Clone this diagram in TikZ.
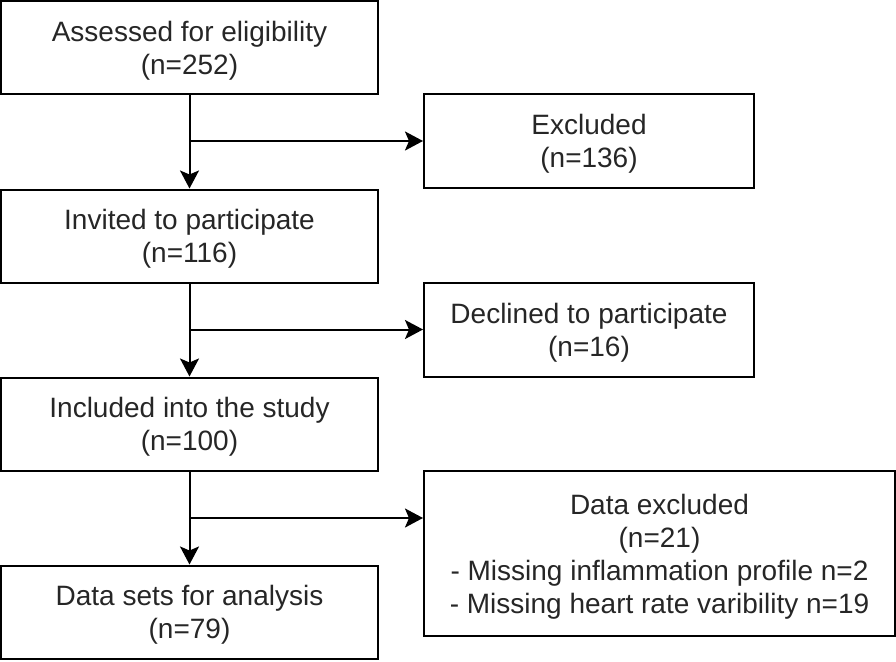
\documentclass[tikz,border=0pt]{standalone}
\usepackage{fontspec}
\setmainfont{Liberation Sans}
\usetikzlibrary{arrows.meta}
\begin{document}
\begin{tikzpicture}[x=1pt,y=-1pt,
  box/.style={draw=black,line width=2pt,rectangle,align=center,inner sep=0pt,text depth=0pt,
    font=\fontsize{28}{33}\selectfont,text=black!85},
  arr/.style={line width=2pt,-{Stealth[length=18pt,width=19pt,inset=4pt]}}]
\useasboundingbox (0,0) rectangle (896,661);
\node[box,minimum width=377pt,minimum height=93pt] (b1) at (189.5,47.5) {Assessed for eligibility\\(n=252)};
\node[box,minimum width=377pt,minimum height=93pt] (b2) at (189.5,236) {Invited to participate\\(n=116)};
\node[box,minimum width=377pt,minimum height=93pt] (b3) at (189.5,424) {Included into the study\\(n=100)};
\node[box,minimum width=377pt,minimum height=93pt] (b4) at (189.5,612) {Data sets for analysis\\(n=79)};
\node[box,minimum width=330pt,minimum height=94pt] (e1) at (589,141) {Excluded\\(n=136)};
\node[box,minimum width=330pt,minimum height=94pt] (e2) at (589,329.5) {Declined to participate\\(n=16)};
\node[box,minimum width=471pt,minimum height=165pt] (e3) at (659.5,553.5) {Data excluded\\(n=21)\\- Missing inflammation profile n=2\\- Missing heart rate varibility n=19};
\coordinate (j1) at (b1.south |- e1.west);
\coordinate (j2) at (b2.south |- e2.west);
\coordinate (j3) at (b3.south |- 0,518);
\draw[arr] (b1.south) -- (b2.north);
\draw[arr] (b2.south) -- (b3.north);
\draw[arr] (b3.south) -- (b4.north);
\draw[arr] (j1) -- (e1.west);
\draw[arr] (j2) -- (e2.west);
\draw[arr] (j3) -- (e3.west |- j3);
\end{tikzpicture}
\end{document}
